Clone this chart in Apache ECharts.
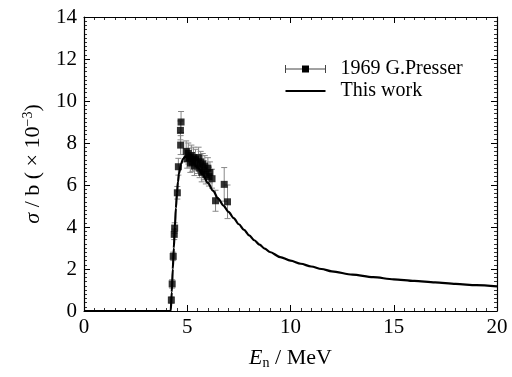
<!DOCTYPE html>
<html><head><meta charset="utf-8">
<script src="https://cdn.jsdelivr.net/npm/echarts@6/dist/echarts.min.js"></script>
<style>html,body{margin:0;padding:0;background:#fff}#c{width:512px;height:377px}</style>
</head><body><div id="c"></div>
<script>
// Experimental data: 1969 G.Presser  [E (MeV), sigma (x10^-3 b), error]
var expE   = [4.23,4.27,4.32,4.37,4.39,4.52,4.57,4.68,4.67,4.70,4.95,5.00,5.05,5.10,5.15,5.20,5.25,5.30,5.35,5.40,5.50,5.55,5.60,5.65,5.70,5.75,5.80,5.85,5.90,6.00,6.05,6.10,6.20,6.37,6.79,6.95];
var expS   = [0.52,1.29,2.60,3.65,3.95,5.63,6.87,7.90,8.60,9.00,7.60,7.25,7.50,7.30,7.05,7.40,7.10,7.30,6.90,7.20,7.00,7.30,6.80,7.10,6.60,7.00,6.70,6.90,6.50,6.80,6.40,6.60,6.30,5.25,6.03,5.20];
var expErr = [0.15,0.20,0.20,0.25,0.25,0.30,0.40,0.45,0.45,0.50,0.50,0.45,0.50,0.45,0.45,0.50,0.45,0.50,0.45,0.50,0.45,0.50,0.45,0.50,0.45,0.50,0.45,0.50,0.45,0.50,0.45,0.50,0.45,0.50,0.80,0.80];
// Calculated curve: This work
var curE = [0,4.2,4.25,4.3,4.35,4.4,4.45,4.5,4.55,4.6,4.7,4.8,4.9,5.0,5.25,5.5,5.75,6.0,6.25,6.5,6.75,7.0,7.25,7.5,7.75,8.0,8.25,8.5,8.75,9.0,9.5,10,10.5,11,11.5,12,13,14,15,16,17,18,19,20];
var curS = [0,0,0.9,2.0,3.0,4.0,4.9,5.6,6.15,6.55,7.0,7.25,7.35,7.3,7.1,6.85,6.5,6.1,5.72,5.35,5.02,4.72,4.42,4.13,3.86,3.6,3.37,3.16,2.97,2.81,2.57,2.4,2.25,2.12,2.0,1.89,1.73,1.61,1.51,1.43,1.36,1.29,1.23,1.17];
var xTicks = [0,5,10,15,20];
var yTicks = [0,2,4,6,8,10,12,14];

var FONT = '"Liberation Serif","Times New Roman",serif';
var chart = echarts.init(document.getElementById('c'), null, {renderer:'canvas'});
var expData = expE.map(function(e,i){return [e, expS[i]];});
var errData = expE.map(function(e,i){return [e, expS[i]-expErr[i], expS[i]+expErr[i]];});
var curData = curE.map(function(e,i){return [e, curS[i]];});

function axisCommon(show){
  return {
    min:0, axisLine:{show:true,onZero:false,lineStyle:{color:'#000',width:1.2}},
    axisTick:{show:true,inside:true,length:6,lineStyle:{color:'#000',width:1}},
    minorTick:{show:true,splitNumber:10,length:3,lineStyle:{color:'#000',width:0.8}},
    splitLine:{show:false},
    axisLabel:{show:show,color:'#000',fontFamily:FONT,fontSize:21}
  };
}
var xb = axisCommon(true); xb.type='value'; xb.max=xTicks[xTicks.length-1]; xb.interval=5; xb.position='bottom';
xb.axisLabel.margin=6;
xb.name='{i|E}{s|n}{r| / MeV}'; xb.nameLocation='middle'; xb.nameGap=35;
xb.nameTextStyle={rich:{i:{fontFamily:FONT,fontStyle:'italic',fontSize:22,color:'#000'},s:{fontFamily:FONT,fontSize:14,color:'#000',verticalAlign:'bottom',padding:[10,0,0,0]},r:{fontFamily:FONT,fontSize:22,color:'#000'}}};
var xt = axisCommon(false); xt.type='value'; xt.max=20; xt.interval=5; xt.position='top';
var yl = axisCommon(true); yl.type='value'; yl.max=yTicks[yTicks.length-1]; yl.interval=2; yl.position='left';
yl.axisLabel.margin=7;
yl.name='{i|σ}{r| / b ( × 10}{s|−3}{r|)}'; yl.nameLocation='middle'; yl.nameGap=39; yl.nameRotate=90;
yl.nameTextStyle={rich:{i:{fontFamily:FONT,fontStyle:'italic',fontSize:22,color:'#000'},r:{fontFamily:FONT,fontSize:22,color:'#000'},s:{fontFamily:FONT,fontSize:14,color:'#000',verticalAlign:'top',padding:[0,0,10,0]}}};
var yr = axisCommon(false); yr.type='value'; yr.max=14; yr.interval=2; yr.position='right';

chart.setOption({
  animation:false,
  backgroundColor:'#fff',
  grid:{left:84,right:15,top:17,bottom:66},
  xAxis:[xb, xt],
  yAxis:[yl, yr],
  series:[
    {type:'line',name:'This work',data:curData,showSymbol:false,smooth:0.3,smoothMonotone:'x',
     lineStyle:{color:'#000',width:2.2},z:3},
    {type:'custom',name:'err',data:errData,z:2,
     renderItem:function(params,api){
       var x=api.value(0), lo=api.coord([x,api.value(1)]), hi=api.coord([x,api.value(2)]);
       var c=3, st={stroke:'#888',lineWidth:1};
       return {type:'group',children:[
         {type:'line',shape:{x1:lo[0],y1:lo[1],x2:hi[0],y2:hi[1]},style:st},
         {type:'line',shape:{x1:lo[0]-c,y1:lo[1],x2:lo[0]+c,y2:lo[1]},style:st},
         {type:'line',shape:{x1:hi[0]-c,y1:hi[1],x2:hi[0]+c,y2:hi[1]},style:st}
       ]};
     }},
    {type:'scatter',name:'1969 G.Presser',data:expData,symbol:'rect',symbolSize:7,
     itemStyle:{color:'#000'},z:4}
  ],
  graphic:[
    {type:'group',left:283,top:59,children:[
      {type:'line',shape:{x1:0,y1:8,x2:40,y2:8},style:{stroke:'#444',lineWidth:1}},
      {type:'line',shape:{x1:0,y1:4,x2:0,y2:12},style:{stroke:'#444',lineWidth:1}},
      {type:'line',shape:{x1:40,y1:4,x2:40,y2:12},style:{stroke:'#444',lineWidth:1}},
      {type:'rect',shape:{x:16.5,y:4.5,width:7,height:7},style:{fill:'#000'}},
      {type:'text',x:55,y:-2,style:{text:'1969 G.Presser',fontFamily:FONT,fontSize:20,fill:'#000'}},
      {type:'line',shape:{x1:0,y1:30,x2:40,y2:30},style:{stroke:'#000',lineWidth:2.2}},
      {type:'text',x:55,y:20,style:{text:'This work',fontFamily:FONT,fontSize:20,fill:'#000'}}
    ]}
  ]
});
</script></body></html>
